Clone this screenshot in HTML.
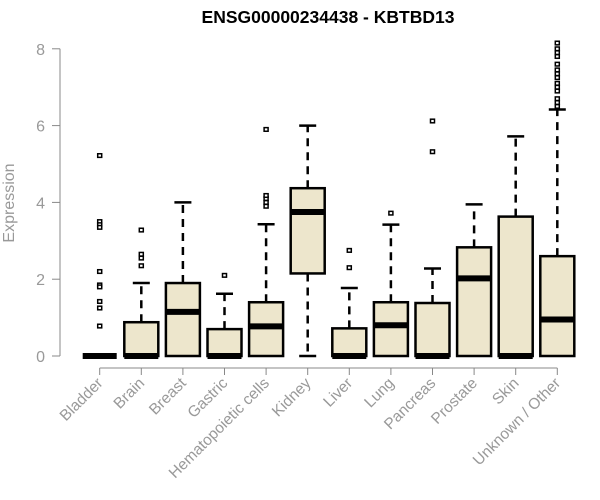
<!DOCTYPE html>
<html><head><meta charset="utf-8"><style>
html,body{margin:0;padding:0;background:#fff;}
svg{display:block;font-family:"Liberation Sans",Arial,sans-serif;}
</style></head><body>
<svg id="chart" width="600" height="500" viewBox="0 0 600 500">
<text x="328" y="23" text-anchor="middle" font-size="17.5" font-weight="bold" fill="#000">ENSG00000234438 - KBTBD13</text>
<g id="yaxis"></g>
<g id="xaxis"></g>
<g id="boxes"></g>
<text transform="translate(14,203) rotate(-90)" text-anchor="middle" font-size="16" fill="#999">Expression</text>
</svg>
<script>
const categories=["Bladder","Brain","Breast","Gastric","Hematopoietic cells","Kidney","Liver","Lung","Pancreas","Prostate","Skin","Unknown / Other"];
const q1=[0,0,0,0,0,2.15,0,0,0,0,0,0];
const medians=[0,0,1.15,0,0.77,3.75,0,0.8,0,2.02,0,0.95];
const q3=[0,0.88,1.9,0.7,1.4,4.37,0.72,1.4,1.38,2.83,3.63,2.6];
const whiskerLow=[0,0,0,0,0,0,0,0,0,0,0,0];
const whiskerHigh=[0,1.9,4.0,1.62,3.43,6.0,1.77,3.42,2.28,3.95,5.72,6.42];
const outliers=[[5.22,3.5,3.42,3.35,2.2,1.85,1.8,1.42,1.25,0.78],[2.35,2.55,2.65,3.28],[],[2.1],[3.9,4.0,4.1,4.18,5.9],[],[2.3,2.75],[3.72],[5.32,6.12],[],[],[6.5,6.6,6.7,6.9,7.0,7.1,7.25,7.35,7.45,7.6,7.8,7.9,8.0,8.15]];
const yTicks=[0,2,4,6,8];
const NS="http://www.w3.org/2000/svg";
const y=v=>356-v*38.4;
const x=i=>99.7+i*41.6;
function mk(tag,attrs,parent){const e=document.createElementNS(NS,tag);for(const k in attrs)e.setAttribute(k,attrs[k]);parent.appendChild(e);return e;}
const ya=document.getElementById('yaxis'),xa=document.getElementById('xaxis'),bg=document.getElementById('boxes');
mk('line',{x1:60,x2:60,y1:y(8),y2:y(0),stroke:'#888','stroke-width':1},ya);
yTicks.forEach(t=>{
 mk('line',{x1:52,x2:60,y1:y(t),y2:y(t),stroke:'#888'},ya);
 const tx=mk('text',{x:45,y:y(t)+6,'text-anchor':'end','font-size':16,fill:'#999'},ya);
 
 
 tx.textContent=t;
});
mk('line',{x1:x(0),x2:x(11),y1:368,y2:368,stroke:'#888'},xa);
categories.forEach((c,i)=>{
 mk('line',{x1:x(i),x2:x(i),y1:368,y2:375,stroke:'#888'},xa);
 const tx=mk('text',{transform:`translate(${x(i)+4},384) rotate(-45)`,'text-anchor':'end','font-size':15.5,fill:'#999'},xa);
 
 
 tx.textContent=c;
});
categories.forEach((c,i)=>{
 const g=mk('g',{},bg);
 
 
 const cx=x(i),hw=17;
 if(whiskerHigh[i]>q3[i]){
  mk('line',{x1:cx,x2:cx,y1:y(q3[i]),y2:y(whiskerHigh[i]),stroke:'#000','stroke-width':2.5,'stroke-dasharray':'8,6'},g);
  mk('line',{x1:cx-8.5,x2:cx+8.5,y1:y(whiskerHigh[i]),y2:y(whiskerHigh[i]),stroke:'#000','stroke-width':2.5},g);
 }
 if(q1[i]>whiskerLow[i]){
  mk('line',{x1:cx,x2:cx,y1:y(q1[i]),y2:y(whiskerLow[i]),stroke:'#000','stroke-width':2.5,'stroke-dasharray':'8,6'},g);
  mk('line',{x1:cx-8.5,x2:cx+8.5,y1:y(whiskerLow[i]),y2:y(whiskerLow[i]),stroke:'#000','stroke-width':2.5},g);
 }
 const h=Math.max(y(q1[i])-y(q3[i]),0);
 mk('rect',{x:cx-hw,y:y(q3[i]),width:hw*2,height:h,fill:'#ede6cc',stroke:'#000','stroke-width':2.5},g);
 mk('line',{x1:cx-hw,x2:cx+hw,y1:y(medians[i]),y2:y(medians[i]),stroke:'#000','stroke-width':6},g);
 outliers[i].forEach(v=>{
  const p=mk('rect',{x:cx-2,y:y(v)-1.8,width:4,height:3.6,fill:'#fff',stroke:'#000','stroke-width':1.5},g);
  
  
 });
});
</script>
</body></html>
